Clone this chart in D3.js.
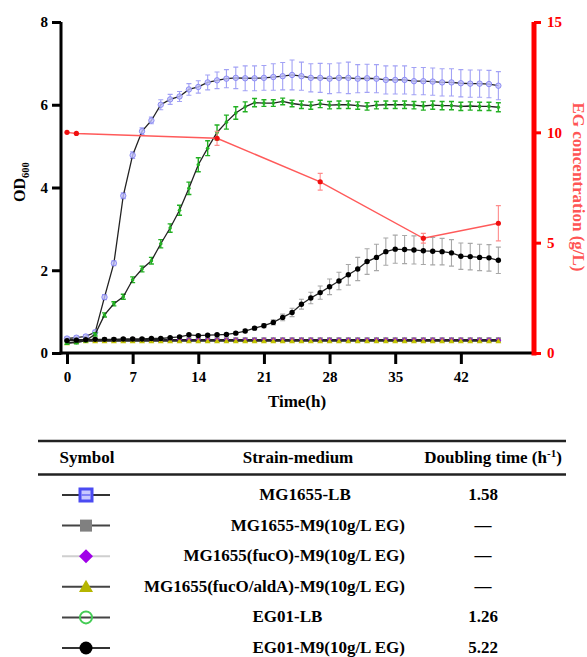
<!DOCTYPE html>
<html><head><meta charset="utf-8">
<script src="https://cdn.jsdelivr.net/npm/d3@7"></script>
<style>
body{margin:0;background:#fff;}
svg{display:block;}
</style>
</head><body><svg id="c" width="587" height="657"></svg>
<script>
// ---------------- data ----------------
const hours = [0,1,2,3,4,5,6,7,8,9,10,11,12,13,14,15,16,17,18,19,20,21,22,23,24,25,26,27,28,29,30,31,32,33,34,35,36,37,38,39,40,41,42,43,44,45,46];

const odMG1655LB = [0.35,0.37,0.40,0.50,1.35,2.17,3.80,4.78,5.36,5.62,6.00,6.13,6.20,6.37,6.43,6.54,6.59,6.63,6.65,6.64,6.64,6.65,6.67,6.69,6.72,6.69,6.65,6.65,6.63,6.65,6.65,6.63,6.64,6.63,6.60,6.60,6.60,6.57,6.57,6.56,6.54,6.54,6.52,6.51,6.51,6.50,6.46];
const errMG1655LB = [0.04,0.04,0.04,0.05,0.06,0.06,0.07,0.08,0.08,0.08,0.12,0.12,0.12,0.14,0.15,0.18,0.20,0.22,0.26,0.30,0.30,0.30,0.32,0.33,0.36,0.34,0.34,0.35,0.36,0.36,0.38,0.34,0.34,0.34,0.34,0.34,0.34,0.33,0.33,0.33,0.33,0.33,0.33,0.33,0.33,0.33,0.34];

const odMG1655M9 = [0.32,0.32,0.32,0.32,0.32,0.32,0.32,0.32,0.32,0.32,0.32,0.32,0.32,0.32,0.32,0.32,0.32,0.32,0.32,0.32,0.32,0.32,0.32,0.32,0.32,0.32,0.32,0.32,0.32,0.32,0.32,0.32,0.32,0.32,0.32,0.32,0.32,0.32,0.32,0.32,0.32,0.32,0.32,0.32,0.32,0.32,0.32];
const odFucO = [0.30,0.30,0.31,0.31,0.31,0.31,0.31,0.31,0.31,0.31,0.31,0.31,0.31,0.31,0.31,0.31,0.31,0.31,0.31,0.31,0.31,0.31,0.31,0.31,0.31,0.31,0.31,0.31,0.31,0.31,0.31,0.31,0.31,0.31,0.31,0.31,0.31,0.31,0.31,0.31,0.31,0.31,0.31,0.31,0.31,0.31,0.31];
const odFucOAldA = [0.24,0.27,0.29,0.29,0.29,0.29,0.29,0.29,0.29,0.29,0.29,0.29,0.29,0.29,0.29,0.29,0.29,0.29,0.29,0.29,0.29,0.29,0.29,0.29,0.29,0.29,0.29,0.29,0.29,0.29,0.29,0.29,0.29,0.29,0.29,0.29,0.29,0.29,0.29,0.29,0.29,0.29,0.29,0.29,0.29,0.29,0.29];

const odEG01LB = [0.24,0.25,0.30,0.45,0.92,1.19,1.36,1.77,2.03,2.23,2.64,3.02,3.45,3.98,4.55,4.95,5.33,5.58,5.80,5.95,6.05,6.04,6.04,6.08,6.03,6.00,5.98,6.02,5.99,6.00,6.00,5.98,5.96,5.99,6.00,6.00,6.00,5.99,5.97,5.99,5.98,5.98,5.96,5.97,5.96,5.96,5.94];
const errEG01LB = [0.03,0.03,0.03,0.04,0.05,0.05,0.06,0.07,0.07,0.08,0.10,0.10,0.12,0.15,0.17,0.18,0.18,0.17,0.15,0.12,0.10,0.08,0.08,0.08,0.08,0.09,0.09,0.09,0.09,0.09,0.09,0.09,0.09,0.09,0.09,0.09,0.09,0.09,0.10,0.10,0.10,0.10,0.10,0.10,0.10,0.10,0.11];

const odEG01M9 = [0.30,0.31,0.32,0.33,0.33,0.33,0.34,0.34,0.34,0.35,0.35,0.37,0.39,0.44,0.42,0.43,0.44,0.45,0.48,0.53,0.60,0.66,0.74,0.86,0.98,1.18,1.33,1.46,1.60,1.74,1.89,2.03,2.21,2.31,2.45,2.51,2.50,2.49,2.47,2.46,2.45,2.42,2.34,2.33,2.31,2.30,2.24];
const errEG01M9 = [0.02,0.02,0.02,0.02,0.02,0.02,0.02,0.02,0.02,0.02,0.02,0.02,0.03,0.03,0.03,0.03,0.03,0.03,0.03,0.04,0.04,0.05,0.06,0.08,0.10,0.12,0.14,0.16,0.19,0.21,0.25,0.28,0.31,0.32,0.33,0.34,0.34,0.34,0.33,0.33,0.32,0.32,0.32,0.32,0.32,0.32,0.32];

const egHours = [0,1,16,27,38,46];
const egConc = [10.0,9.95,9.73,7.76,5.20,5.88];
const egErr = [0,0,0.32,0.38,0.22,0.80];

const xTicks = [0,7,14,21,28,35,42];
const yTicks = [0,2,4,6,8];
const y2Ticks = [0,5,10,15];

const strains = ["MG1655-LB","MG1655-M9(10g/L EG)","MG1655(fucO)-M9(10g/L EG)","MG1655(fucO/aldA)-M9(10g/L EG)","EG01-LB","EG01-M9(10g/L EG)"];
const doubling = ["1.58","\u2014","\u2014","\u2014","1.26","5.22"];

// ---------------- chart ----------------
const FONT = "Liberation Serif";
const svg = d3.select("#c");
function txt(sel, size) {
  return sel.style("font-family", FONT).style("font-weight", "bold").style("font-size", size + "px");
}
const x = d3.scaleLinear().domain([-0.64, 49.8]).range([61, 534]);
const y = d3.scaleLinear().domain([0, 8]).range([353, 22]);
const y2 = d3.scaleLinear().domain([0, 15]).range([353, 22]);

const series = [
  {name: strains[1], v: odMG1655M9, e: null, marker: "square", mc: "#808080", ec: "#999"},
  {name: strains[2], v: odFucO, e: null, marker: "diamond", mc: "#a000e8", ec: "#999"},
  {name: strains[3], v: odFucOAldA, e: null, marker: "triangle", mc: "#c2c200", ec: "#999"},
  {name: strains[0], v: odMG1655LB, e: errMG1655LB, marker: "circleOpen", mc: "#8383f0", ec: "#a2a2f5"},
  {name: strains[4], v: odEG01LB, e: errEG01LB, marker: "greenDot", mc: "#22b022", ec: "#22b022"},
  {name: strains[5], v: odEG01M9, e: errEG01M9, marker: "circle", mc: "#000", ec: "#a8a8a8"}
];

const line = d3.line().x((d) => x(d[0])).y((d) => y(d[1]));
const gPlot = svg.append("g");

function drawMarker(g, type, cx, cy, color, big) {
  const s = big ? 1 : 0.42;
  if (type === "square") {
    g.append("rect").attr("x", cx - 6*s).attr("y", cy - 6*s).attr("width", 12*s).attr("height", 12*s).attr("fill", color);
  } else if (type === "diamond") {
    const r = 7*s;
    g.append("path").attr("d", `M${cx},${cy-r}L${cx+r},${cy}L${cx},${cy+r}L${cx-r},${cy}Z`).attr("fill", color);
  } else if (type === "triangle") {
    const r = 7*s;
    g.append("path").attr("d", `M${cx},${cy-r}L${cx+r},${cy+r*0.75}L${cx-r},${cy+r*0.75}Z`).attr("fill", color);
  } else if (type === "circleOpen") {
    g.append("circle").attr("cx", cx).attr("cy", cy).attr("r", 2.7).attr("fill", "#c4c4fc").attr("fill-opacity", 0.8).attr("stroke", color).attr("stroke-width", 0.9);
  } else if (type === "greenDot") {
    g.append("circle").attr("cx", cx).attr("cy", cy).attr("r", 1.8).attr("fill", color);
  } else if (type === "circle") {
    g.append("circle").attr("cx", cx).attr("cy", cy).attr("r", 2.7).attr("fill", color);
  }
}

series.forEach((s) => {
  const pts = hours.map((h, i) => [h, s.v[i]]);
  const g = gPlot.append("g");
  if (s.e) {
    hours.forEach((h, i) => {
      const x0 = x(h), ya = y(s.v[i] + s.e[i]), yb = y(s.v[i] - s.e[i]);
      g.append("path").attr("d", `M${x0},${ya}V${yb}M${x0-2.5},${ya}H${x0+2.5}M${x0-2.5},${yb}H${x0+2.5}`)
        .attr("stroke", s.ec).attr("stroke-width", s.marker === "greenDot" ? 1.4 : 1.1).attr("fill", "none");
    });
  }
  g.append("path").datum(pts).attr("d", line).attr("fill", "none").attr("stroke", "#222").attr("stroke-width", 1.3);
  pts.forEach((p) => drawMarker(g, s.marker, x(p[0]), y(p[1]), s.mc, false));
});

// EG concentration (right axis)
const gEG = svg.append("g");
egHours.forEach((h, i) => {
  if (egErr[i] > 0) {
    const x0 = x(h), ya = y2(egConc[i] + egErr[i]), yb = y2(egConc[i] - egErr[i]);
    gEG.append("path").attr("d", `M${x0},${ya}V${yb}M${x0-2.5},${ya}H${x0+2.5}M${x0-2.5},${yb}H${x0+2.5}`)
      .attr("stroke", "#ff8c8c").attr("stroke-width", 1.1).attr("fill", "none");
  }
});
gEG.append("path").datum(egHours.map((h, i) => [h, egConc[i]]))
  .attr("d", d3.line().x((d) => x(d[0])).y((d) => y2(d[1])))
  .attr("fill", "none").attr("stroke", "#ff5a5a").attr("stroke-width", 1.4);
egHours.forEach((h, i) => {
  gEG.append("circle").attr("cx", x(h)).attr("cy", y2(egConc[i])).attr("r", 2.6).attr("fill", "#f01010");
});

// axes
const ax = svg.append("g").attr("transform", "translate(0,353)")
  .call(d3.axisBottom(x).tickValues(xTicks).tickSize(11).tickSizeOuter(0).tickPadding(7));
const ay = svg.append("g").attr("transform", "translate(61,0)")
  .call(d3.axisLeft(y).tickValues(yTicks).tickSize(9).tickSizeOuter(0).tickPadding(4));
const ay2 = svg.append("g").attr("transform", "translate(534,0)")
  .call(d3.axisRight(y2).tickValues(y2Ticks).tickSize(7).tickSizeOuter(0).tickPadding(6));

[ax, ay].forEach((a) => {
  a.select(".domain").attr("stroke", "#000").attr("stroke-width", 3);
  a.selectAll(".tick line").attr("stroke", "#000").attr("stroke-width", 3);
  txt(a.selectAll(".tick text").attr("fill", "#000"), 15);
});
ax.select(".domain").attr("d", "M59.5,0H534");
ay.select(".domain").attr("d", "M0,22V354.5");
ay2.select(".domain").attr("stroke", "#ff0000").attr("stroke-width", 5).attr("d", "M0,22V355.5");
ay2.selectAll(".tick line").attr("stroke", "#ff0000").attr("stroke-width", 3);
txt(ay2.selectAll(".tick text").attr("fill", "#ff0000"), 15);

// axis titles
txt(svg.append("text").attr("x", 297).attr("y", 407).attr("text-anchor", "middle"), 17).text("Time(h)");
const odT = txt(svg.append("text").attr("transform", "translate(25,182) rotate(-90)").attr("text-anchor", "middle"), 16);
odT.append("tspan").text("OD");
odT.append("tspan").attr("dy", 4).style("font-size", "10.5px").text("600");
txt(svg.append("text").attr("transform", "translate(573,187) rotate(90)").attr("text-anchor", "middle")
  .attr("fill", "#ff5555"), 17).text("EG concentration (g/L)");

// ---------------- table ----------------
const gT = svg.append("g");
gT.append("line").attr("x1", 38).attr("x2", 566).attr("y1", 441).attr("y2", 441).attr("stroke", "#222").attr("stroke-width", 2.5);
gT.append("line").attr("x1", 38).attr("x2", 566).attr("y1", 474.5).attr("y2", 474.5).attr("stroke", "#222").attr("stroke-width", 2.5);
txt(gT.append("text").attr("x", 87).attr("y", 463).attr("text-anchor", "middle"), 17).text("Symbol");
txt(gT.append("text").attr("x", 298).attr("y", 463).attr("text-anchor", "middle"), 17).text("Strain-medium");
const dh = txt(gT.append("text").attr("x", 493).attr("y", 463).attr("text-anchor", "middle"), 17);
dh.append("tspan").text("Doubling time (h");
dh.append("tspan").attr("dy", -6).style("font-size", "11px").text("-1");
dh.append("tspan").attr("dy", 6).text(")");

const rowY = (i) => 495 + i * 30.6;
const legendStyle = [
  {marker: "blueSq", line: "#333"},
  {marker: "square", color: "#808080", line: "#444"},
  {marker: "diamond", color: "#a000e8", line: "#cfcfcf"},
  {marker: "triangle", color: "#b5b500", line: "#444"},
  {marker: "greenOpen", color: "#44cc55", line: "#444"},
  {marker: "circleBig", color: "#000", line: "#333"}
];
const nameNodes = [];
strains.forEach((s, i) => {
  const cy = rowY(i), cx = 86;
  const st = legendStyle[i];
  const g = gT.append("g");
  g.append("line").attr("x1", cx - 24).attr("x2", cx + 24).attr("y1", cy).attr("y2", cy).attr("stroke", st.line).attr("stroke-width", 2);
  if (st.marker === "blueSq") {
    g.append("rect").attr("x", cx - 7.5).attr("y", cy - 7.5).attr("width", 15).attr("height", 15).attr("fill", "#4b4bf2");
    g.append("rect").attr("x", cx - 4.5).attr("y", cy - 4.5).attr("width", 9).attr("height", 9).attr("fill", "#c8c8ff");
    g.append("line").attr("x1", cx - 4.5).attr("x2", cx + 4.5).attr("y1", cy).attr("y2", cy).attr("stroke", "#6a6af5").attr("stroke-width", 1.5);
  } else if (st.marker === "greenOpen") {
    g.append("circle").attr("cx", cx).attr("cy", cy).attr("r", 6).attr("fill", "none").attr("stroke", st.color).attr("stroke-width", 2);
  } else if (st.marker === "circleBig") {
    g.append("circle").attr("cx", cx).attr("cy", cy).attr("r", 6.5).attr("fill", st.color);
  } else {
    drawMarker(g, st.marker, cx, cy, st.color, true);
  }
  const t = txt(gT.append("text").attr("x", 405).attr("y", cy + 5).attr("text-anchor", "end"), 17).text(s);
  nameNodes.push(t);
  txt(gT.append("text").attr("x", 483).attr("y", cy + 5).attr("text-anchor", "middle"), 17).text(doubling[i]);
});
// EG01-LB shares its left edge with the following row; MG1655-LB sits under the header
strains.forEach((s, i) => {
  if (/^EG01-LB$/.test(s) && nameNodes[i + 1]) {
    const bx = nameNodes[i + 1].node().getBBox().x;
    nameNodes[i].attr("text-anchor", "start").attr("x", bx);
  } else if (/-LB$/.test(s)) {
    nameNodes[i].attr("text-anchor", "middle").attr("x", 305);
  }
});
</script>
</body></html>
